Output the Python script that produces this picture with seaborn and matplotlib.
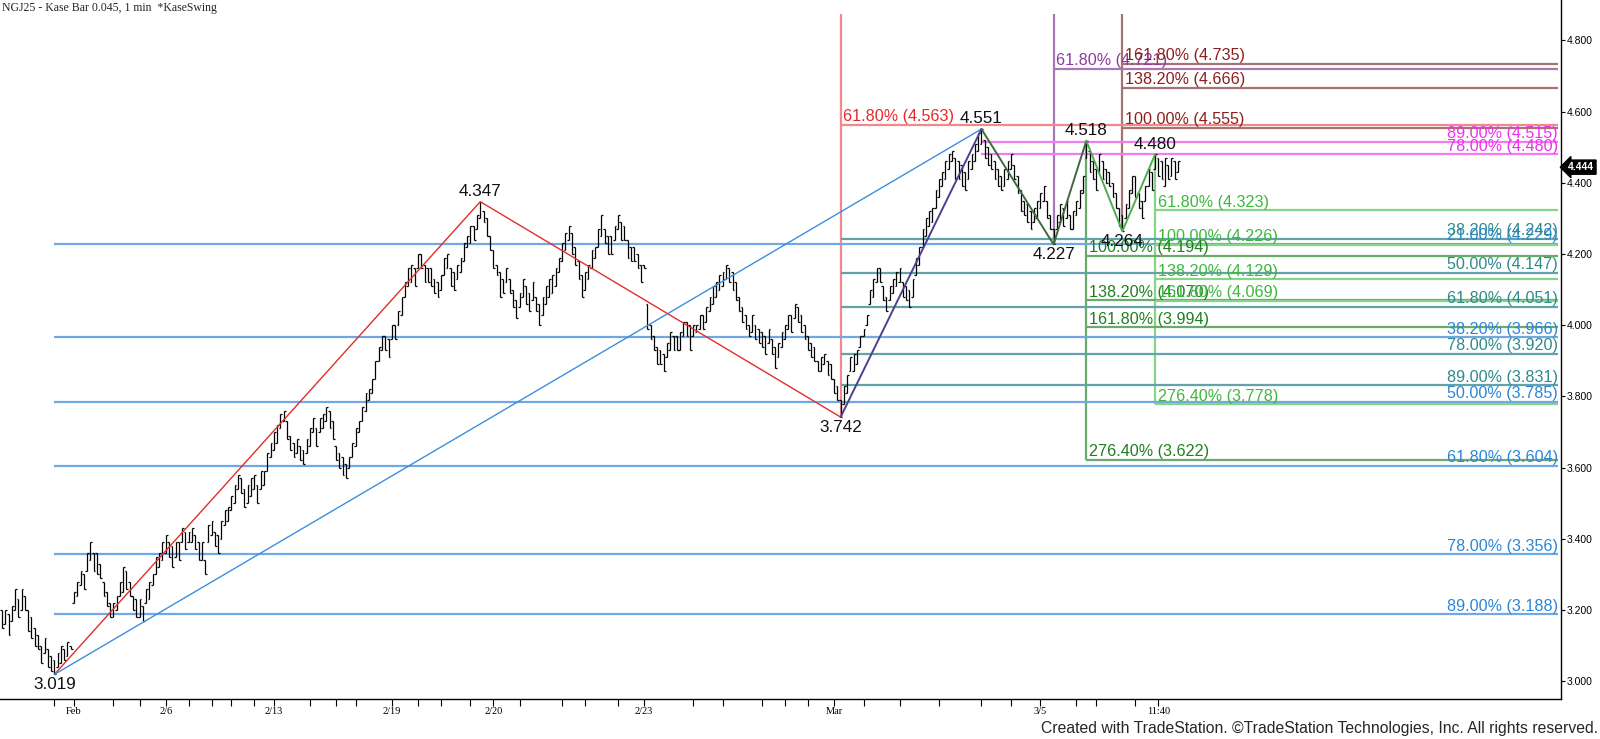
import numpy as np
import matplotlib
matplotlib.use('Agg')
import matplotlib.pyplot as plt
import seaborn as sns

# Kase bars (0.045 range) left to right, one value per bar
highs_a = [3.20, 3.20, 3.19, 3.21, 3.26, 3.23, 3.26, 3.24, 3.20, 3.18, 3.15, 3.13, 3.10, 3.12, 3.09,
           3.07, 3.06, 3.08, 3.10, 3.09, 3.11, 3.10]
lows_a = [3.15, 3.16, 3.13, 3.17, 3.20, 3.18, 3.20, 3.20, 3.14, 3.12, 3.10, 3.09, 3.05, 3.08, 3.04,
          3.03, 3.019, 3.04, 3.05, 3.06, 3.07, 3.09]
dir_a = "duduududddddduddduudud"

highs_b = [3.25, 3.28, 3.31, 3.30, 3.36, 3.39, 3.36, 3.36, 3.33, 3.28, 3.25, 3.22, 3.22, 3.24, 3.28,
           3.32, 3.31, 3.28, 3.24, 3.23, 3.23, 3.21, 3.26, 3.28, 3.30, 3.35, 3.36, 3.39, 3.41, 3.39,
           3.38, 3.39, 3.39, 3.43, 3.42, 3.42, 3.43, 3.41, 3.39, 3.39, 3.34]
lows_b = [3.22, 3.24, 3.27, 3.26, 3.31, 3.34, 3.31, 3.30, 3.29, 3.24, 3.21, 3.18, 3.18, 3.20, 3.24,
          3.25, 3.26, 3.24, 3.20, 3.18, 3.18, 3.17, 3.22, 3.23, 3.27, 3.30, 3.32, 3.34, 3.36, 3.35,
          3.32, 3.35, 3.34, 3.39, 3.37, 3.39, 3.39, 3.37, 3.34, 3.34, 3.30]
dir_b = "uuuduudddd" + "dduuuudddd" + "uduuuuuuud" + "dududuuddu" + "d"

highs_c = [3.44, 3.45, 3.42, 3.41, 3.45, 3.48, 3.49, 3.52, 3.55, 3.58,
           3.57, 3.54, 3.55, 3.57, 3.58, 3.55, 3.59, 3.59, 3.64, 3.67,
           3.70, 3.72, 3.75, 3.76, 3.73, 3.69, 3.67, 3.68, 3.66, 3.65,
           3.68, 3.71, 3.74, 3.71, 3.74, 3.75, 3.77, 3.76, 3.73, 3.66,
           3.64, 3.63, 3.61, 3.63, 3.67, 3.71, 3.73, 3.77, 3.81, 3.82, 3.85]
lows_c = [3.39, 3.41, 3.38, 3.36, 3.40, 3.44, 3.45, 3.48, 3.50, 3.54,
          3.53, 3.49, 3.50, 3.52, 3.54, 3.50, 3.54, 3.55, 3.59, 3.63,
          3.65, 3.67, 3.71, 3.73, 3.68, 3.65, 3.63, 3.64, 3.62, 3.61,
          3.64, 3.66, 3.70, 3.66, 3.70, 3.71, 3.73, 3.71, 3.68, 3.62,
          3.60, 3.58, 3.57, 3.60, 3.63, 3.66, 3.70, 3.73, 3.76, 3.79, 3.81]
dir_c = "uudduuuuuu" + "dduuuduuuu" + "uuuudddudd" + "uuuduuuddd" + "ddduuuuuuu" + "u"

highs_d = [3.90, 3.94, 3.97, 3.97, 3.96, 4.00, 4.00, 4.04, 4.08, 4.12,
           4.16, 4.17, 4.16, 4.20, 4.20, 4.17, 4.16, 4.16, 4.13, 4.12,
           4.14, 4.19, 4.20, 4.16, 4.15, 4.17, 4.19, 4.23, 4.25, 4.28,
           4.28, 4.31, 4.347, 4.32, 4.30, 4.25, 4.21, 4.17, 4.15, 4.13,
           4.16, 4.13, 4.10, 4.07, 4.09, 4.13, 4.11, 4.09, 4.12, 4.08,
           4.06, 4.08, 4.11, 4.13, 4.14, 4.16, 4.19, 4.23, 4.26, 4.28,
           4.26, 4.22, 4.18, 4.14, 4.15, 4.17, 4.21, 4.22, 4.27, 4.31,
           4.27, 4.25, 4.25, 4.28, 4.31, 4.29, 4.28, 4.24, 4.22, 4.22,
           4.20, 4.17, 4.17, 4.06, 4.00, 3.97]
lows_d = [3.85, 3.90, 3.93, 3.93, 3.91, 3.96, 3.96, 4.00, 4.03, 4.08,
          4.11, 4.12, 4.11, 4.16, 4.16, 4.12, 4.12, 4.11, 4.09, 4.08,
          4.10, 4.14, 4.16, 4.11, 4.10, 4.13, 4.15, 4.18, 4.22, 4.23,
          4.24, 4.27, 4.30, 4.29, 4.25, 4.21, 4.16, 4.14, 4.08, 4.09,
          4.12, 4.09, 4.05, 4.02, 4.05, 4.08, 4.06, 4.04, 4.07, 4.04,
          4.00, 4.03, 4.06, 4.08, 4.09, 4.11, 4.15, 4.18, 4.21, 4.24,
          4.20, 4.17, 4.13, 4.08, 4.10, 4.13, 4.16, 4.19, 4.22, 4.25,
          4.23, 4.20, 4.20, 4.24, 4.27, 4.24, 4.24, 4.19, 4.18, 4.18,
          4.16, 4.12, 4.16, 3.99, 3.96, 3.93]
dir_d = ("uuudduduuu" + "uududddddd" + "uuudduuuuu" + "duuddddddd" + "uddduuddud"
         + "duuuuuuuuu" + "dddduuuuuu" + "ddduuddddd" + "dddddd")

highs_e = [3.94, 3.93, 3.92, 3.95, 3.98, 3.97, 3.97, 3.98, 4.01, 4.01,
           4.00, 4.00, 4.00, 4.03, 4.03, 4.05, 4.08, 4.11, 4.12, 4.14,
           4.15, 4.17, 4.16, 4.15, 4.12, 4.08, 4.05, 4.03, 4.00, 4.03,
           4.00, 3.99, 3.98, 3.97, 3.99, 3.96, 3.94, 3.95, 3.98, 4.00,
           4.03, 4.03, 4.06, 4.05, 4.03, 4.00, 3.97, 3.95, 3.94, 3.90,
           3.91, 3.92, 3.90, 3.89, 3.85, 3.83, 3.79, 3.83, 3.86, 3.91,
           3.92, 3.93, 3.97, 3.99, 4.03, 4.10, 4.13, 4.16, 4.16, 4.11,
           4.08, 4.11, 4.13, 4.15, 4.16]
lows_e = [3.89, 3.89, 3.87, 3.91, 3.93, 3.93, 3.93, 3.93, 3.97, 3.97,
          3.93, 3.97, 3.98, 3.99, 3.99, 4.01, 4.04, 4.06, 4.08, 4.10,
          4.11, 4.13, 4.12, 4.10, 4.07, 4.04, 4.01, 3.99, 3.97, 3.98,
          3.96, 3.95, 3.94, 3.92, 3.95, 3.92, 3.88, 3.91, 3.94, 3.96,
          3.99, 3.98, 4.02, 4.01, 3.98, 3.96, 3.93, 3.91, 3.90, 3.87,
          3.87, 3.89, 3.86, 3.85, 3.81, 3.79, 3.742, 3.78, 3.81, 3.87,
          3.87, 3.89, 3.94, 3.97, 4.00, 4.06, 4.08, 4.12, 4.12, 4.07,
          4.04, 4.07, 4.09, 4.11, 4.12]
dir_e = ("ddduudduud" + "duuuduuuuu" + "uudddddddu" + "ddddudduuu" + "ududdddddd"
         + "uuddddduuu" + "uuuuuuuudd" + "duuuu")

highs_f = [4.12, 4.11, 4.10, 4.13, 4.19, 4.22, 4.27, 4.30, 4.32, 4.33,
           4.38, 4.41, 4.43, 4.46, 4.48, 4.49, 4.47, 4.46, 4.45, 4.43,
           4.46, 4.48, 4.51, 4.54, 4.551, 4.52, 4.50, 4.48, 4.46, 4.44,
           4.42, 4.44, 4.46, 4.48, 4.45, 4.42, 4.38, 4.35, 4.34, 4.32,
           4.33, 4.35, 4.37, 4.39, 4.35, 4.31, 4.27, 4.31, 4.34, 4.33,
           4.35, 4.31, 4.32, 4.35, 4.38, 4.42, 4.518, 4.49, 4.46, 4.44,
           4.48, 4.46, 4.44, 4.43, 4.40, 4.37, 4.33, 4.31, 4.34, 4.38,
           4.42, 4.42, 4.37, 4.35, 4.39, 4.44, 4.43, 4.48,
           4.47, 4.46, 4.47, 4.45, 4.47, 4.46, 4.46]
lows_f = [4.08, 4.07, 4.05, 4.08, 4.14, 4.17, 4.22, 4.25, 4.28, 4.29,
          4.33, 4.36, 4.39, 4.41, 4.44, 4.46, 4.41, 4.41, 4.39, 4.38,
          4.41, 4.44, 4.46, 4.49, 4.51, 4.47, 4.45, 4.44, 4.41, 4.39,
          4.38, 4.39, 4.41, 4.44, 4.41, 4.37, 4.32, 4.31, 4.29, 4.27,
          4.29, 4.30, 4.33, 4.35, 4.30, 4.27, 4.227, 4.27, 4.29, 4.28,
          4.30, 4.27, 4.27, 4.31, 4.33, 4.37, 4.47, 4.43, 4.41, 4.38,
          4.43, 4.41, 4.40, 4.39, 4.36, 4.33, 4.28, 4.264, 4.30, 4.33,
          4.37, 4.36, 4.33, 4.30, 4.35, 4.39, 4.38, 4.44,
          4.42, 4.41, 4.39, 4.41, 4.42, 4.41, 4.43]
dir_f = ("ddduuuuuuu" + "uuuuuudddd" + "uuuuuddddd" + "duuudddddd" + "uuuuddduud"
         + "uduuuuuddd" + "uddddddduu" + "uddduudu" + "ddududu")

# swing pivots (bar number, price)
swing_bar = [16, 146, 256, 299, 321, 331, 342, 352]
swing_price = [3.019, 4.347, 3.742, 4.551, 4.227, 4.518, 4.264, 4.480]
swing_kind = ['low', 'high', 'low', 'high', 'low', 'high', 'low', 'high']

# fibonacci groups
blue_pct = ['21.00%', '38.20%', '50.00%', '61.80%', '78.00%', '89.00%']
blue_lvl = [4.229, 3.966, 3.785, 3.604, 3.356, 3.188]
teal_pct = ['38.20%', '50.00%', '61.80%', '78.00%', '89.00%']
teal_lvl = [4.242, 4.147, 4.051, 3.920, 3.831]
magenta_pct = ['89.00%', '78.00%']
magenta_lvl = [4.515, 4.480]
red_pct = ['61.80%']
red_lvl = [4.563]
purple_pct = ['61.80%']
purple_lvl = [4.721]
maroon_pct = ['100.00%', '138.20%', '161.80%']
maroon_lvl = [4.555, 4.666, 4.735]
dkgreen_pct = ['100.00%', '138.20%', '161.80%', '276.40%']
dkgreen_lvl = [4.194, 4.070, 3.994, 3.622]
ltgreen_pct = ['61.80%', '100.00%', '138.20%', '161.80%', '276.40%']
ltgreen_lvl = [4.323, 4.226, 4.129, 4.069, 3.778]

price_ticks = [3.0, 3.2, 3.4, 3.6, 3.8, 4.0, 4.2, 4.4, 4.6, 4.8]
last_price = 4.444
date_tick_bar = [22, 50, 83, 119, 150, 196, 254, 317, 353]
date_tick_lbl = ['Feb', '2/6', '2/13', '2/19', '2/20', '2/23', 'Mar', '3/5', '11:40']
minor_tick_bar = [16, 34, 42, 57, 64, 70, 77, 94, 102, 108, 127, 134, 143, 158, 171, 178, 188,
                  211, 220, 232, 239, 246, 263, 274, 286, 299, 308, 328, 334, 346]

sns.set_theme(style='white')
plt.rcParams['font.family'] = ['Liberation Sans', 'DejaVu Sans']

fig = plt.figure(figsize=(16, 7.39), dpi=100)
ax = fig.add_axes([0, 40 / 739, 1561 / 1600, 699 / 739])
ax.set_xlim(-0.6, 475.9)
ax.set_ylim(2.950, 4.9135)
right_end = 475
vtop = 4.874

# price bars
highs = np.array(highs_a + highs_b + highs_c + highs_d + highs_e + highs_f)
lows = np.array(lows_a + lows_b + lows_c + lows_d + lows_e + lows_f)
dirs = dir_a + dir_b + dir_c + dir_d + dir_e + dir_f
bars = np.arange(len(highs))
up = np.array([c == 'u' for c in dirs])
closes = np.where(up, highs, lows)
opens = np.where(up, lows, highs)
ax.vlines(bars, lows, highs, color='black', lw=0.9, zorder=3)
ax.hlines(closes, bars, bars + 0.55, color='black', lw=0.9, zorder=3)
ax.hlines(opens, bars - 0.55, bars, color='black', lw=0.9, zorder=3)


def fib_group(levels, pcts, start, line_c, text_c, align):
    ax.hlines(levels, start, right_end, color=line_c, lw=1.6, zorder=1)
    for lvl, pct in zip(levels, pcts):
        if align == 'right':
            ax.annotate(f"{pct} ({lvl:.3f})", (right_end, lvl), xytext=(0, 0.5),
                        textcoords='offset points', ha='right', va='bottom',
                        color=text_c, fontsize=11.6, zorder=6)
        else:
            ax.annotate(f"{pct} ({lvl:.3f})", (start, lvl), xytext=(2, 0.5),
                        textcoords='offset points', ha='left', va='bottom',
                        color=text_c, fontsize=11.6, zorder=6)


# vertical anchors
ax.vlines(256, 3.742, vtop, color='#f08a8a', lw=1.6, zorder=1)
ax.vlines(321, 4.227, vtop, color='#a777b6', lw=1.6, zorder=1)
ax.vlines(342, 4.264, vtop, color='#a77272', lw=1.6, zorder=1)
ax.vlines(331, 3.622, 4.518, color='#6aaa6a', lw=1.6, zorder=1)
ax.vlines(352, 3.778, 4.480, color='#86d486', lw=1.6, zorder=1)

fib_group(blue_lvl, blue_pct, 16, '#6fa8e2', '#2b86d9', 'right')
fib_group(teal_lvl, teal_pct, 256, '#62a2a8', '#2e8a8c', 'right')
fib_group(magenta_lvl, magenta_pct, 299, '#f07cf0', '#f02ef0', 'right')
fib_group(red_lvl, red_pct, 256, '#f08a8a', '#e8262a', 'left')
fib_group(purple_lvl, purple_pct, 321, '#a777b6', '#8e3a9e', 'left')
fib_group(maroon_lvl, maroon_pct, 342, '#a77272', '#8b1f1f', 'left')
fib_group(dkgreen_lvl, dkgreen_pct, 331, '#6aaa6a', '#1f7f1f', 'left')
fib_group(ltgreen_lvl, ltgreen_pct, 352, '#86d486', '#3cb83c', 'left')

# swing legs
legs = [([0, 1, 2], '#e0302a', 1.0),
        ([0, 3], '#3c8fe0', 1.0),
        ([2, 3], '#4e3f8f', 1.4),
        ([3, 4, 5], '#3d6b3d', 1.4),
        ([5, 6, 7], '#4cae4c', 1.4)]
for pts, c, lw in legs:
    sns.lineplot(x=[swing_bar[k] for k in pts], y=[swing_price[k] for k in pts],
                 sort=False, estimator=None, color=c, linewidth=lw, ax=ax, zorder=4)

for b, p, kind in zip(swing_bar, swing_price, swing_kind):
    hi = kind == 'high'
    ax.annotate(f"{p:.3f}", (b, p), xytext=(0, 2 if hi else -2), textcoords='offset points',
                ha='center', va='bottom' if hi else 'top', fontsize=12.3, color='#111111', zorder=6)

# axes styling
for s in ['left', 'top']:
    ax.spines[s].set_visible(False)
for s in ['right', 'bottom']:
    ax.spines[s].set_color('black')
    ax.spines[s].set_linewidth(1.0)
ax.yaxis.tick_right()
ax.set_yticks(price_ticks)
ax.set_yticklabels([f"{t:.3f}" for t in price_ticks])
ax.tick_params(axis='y', direction='out', length=3, width=0.8, pad=1, labelsize=7.5,
               colors='black', right=True, left=False)
ax.set_xticks(date_tick_bar)
ax.set_xticklabels(date_tick_lbl, family=['Liberation Serif', 'DejaVu Serif'], fontsize=7.5)
ax.set_xticks(minor_tick_bar, minor=True)
ax.tick_params(axis='x', which='both', direction='out', length=5, width=0.8, pad=1,
               colors='black', bottom=True)
ax.set_xlabel('')
ax.set_ylabel('')
ax.grid(False)

ax.annotate(f"{last_price:.3f}", (1.0, last_price), xycoords=ax.get_yaxis_transform(),
            xytext=(5, 0), textcoords='offset points', ha='left', va='center',
            color='white', fontsize=7.5, fontweight='bold', annotation_clip=False, zorder=7,
            bbox=dict(boxstyle='larrow,pad=0.2', fc='black', ec='black'))

fig.text(2 / 1600, 1 - 8 / 739, "NGJ25 - Kase Bar 0.045, 1 min  *KaseSwing",
         family=['Liberation Serif', 'DejaVu Serif'], fontsize=8.5, va='center', ha='left')
fig.text(1598 / 1600, 1 - 729 / 739,
         "Created with TradeStation. \u00a9TradeStation Technologies, Inc. All rights reserved.",
         fontsize=11.3, va='center', ha='right')

fig.savefig('out.png', dpi=100)
